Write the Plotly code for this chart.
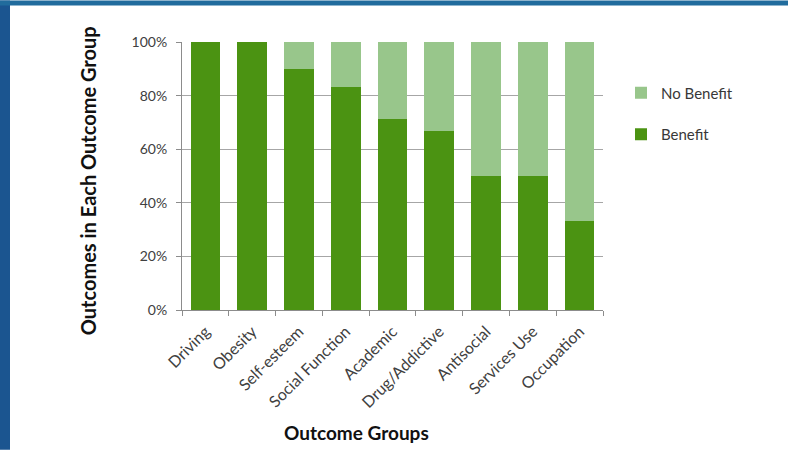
import plotly.graph_objects as go

categories = ["Driving", "Obesity", "Self-esteem", "Social Function", "Academic",
              "Drug/Addictive", "Antisocial", "Services Use", "Occupation"]
benefit = [1.00, 1.00, 0.90, 0.833, 0.714, 0.667, 0.50, 0.50, 0.333]
no_benefit = [0.00, 0.00, 0.10, 0.167, 0.286, 0.333, 0.50, 0.50, 0.667]
y_ticks = [0, 0.2, 0.4, 0.6, 0.8, 1.0]
y_tick_labels = ["0%", "20%", "40%", "60%", "80%", "100%"]

W, H = 788, 450
L, R, T, B = 182, 185, 41.5, 140
PW, PH = W - L - R, H - T - B

def px(x):
    return (x - L) / PW

def py(y):
    return (H - B - y) / PH

FONT = "Lato"

fig = go.Figure()
fig.add_trace(go.Bar(x=categories, y=benefit, name="Benefit",
                     marker=dict(color="#4b9312", line=dict(width=0)),
                     legendgroup="b", legendrank=2))
fig.add_trace(go.Bar(x=categories, y=no_benefit, name="No Benefit",
                     marker=dict(color="#98c68b", line=dict(width=0)),
                     legendgroup="nb", legendrank=1))

shapes = [
    dict(type="rect", xref="paper", yref="paper", x0=px(0), x1=px(10), y0=py(H), y1=py(0),
         fillcolor="#1b5590", line=dict(width=0), layer="below"),
    dict(type="rect", xref="paper", yref="paper", x0=px(0), x1=px(W), y0=py(5), y1=py(0),
         fillcolor="#216c9d", line=dict(width=0), layer="below"),
]

fig.update_layout(
    width=W, height=H,
    margin=dict(l=L, r=R, t=T, b=B, pad=0),
    paper_bgcolor="white", plot_bgcolor="white",
    barmode="stack", bargap=0.365,
    font=dict(family=FONT, color="#404040", size=14),
    shapes=shapes,
    legend=dict(x=px(621), y=py(76), xanchor="left", yanchor="top",
                traceorder="grouped", tracegroupgap=19,
                font=dict(size=15, color="#383838"), bgcolor="rgba(0,0,0,0)"),
    xaxis=dict(tickangle=-45, tickson="boundaries", ticks="outside", ticklen=5,
               tickcolor="#8c8c8c", showline=True, linecolor="#8c8c8c", linewidth=1,
               showgrid=False, ticklabelstandoff=5,
               tickfont=dict(size=16, color="#404040")),
    yaxis=dict(range=[0, 1], tickvals=y_ticks, ticktext=y_tick_labels,
               ticks="outside", ticklen=5, tickcolor="#8c8c8c",
               showline=True, linecolor="#8c8c8c", linewidth=1,
               showgrid=True, gridcolor="#a6a6a6", gridwidth=1,
               ticklabelstandoff=6, tickfont=dict(size=14, color="#404040"),
               zeroline=False),
    annotations=[
        dict(text="<b>Outcome Groups</b>", xref="paper", yref="paper",
             x=px(356), y=py(433), showarrow=False, xanchor="center", yanchor="middle",
             font=dict(size=19, color="#111111", family=FONT)),
        dict(text="<b>Outcomes in Each Outcome Group</b>", xref="paper", yref="paper",
             x=px(88), y=py(181), showarrow=False, xanchor="center", yanchor="middle",
             textangle=-90, font=dict(size=20, color="#111111", family=FONT)),
    ],
)

fig.write_html("out.html")
